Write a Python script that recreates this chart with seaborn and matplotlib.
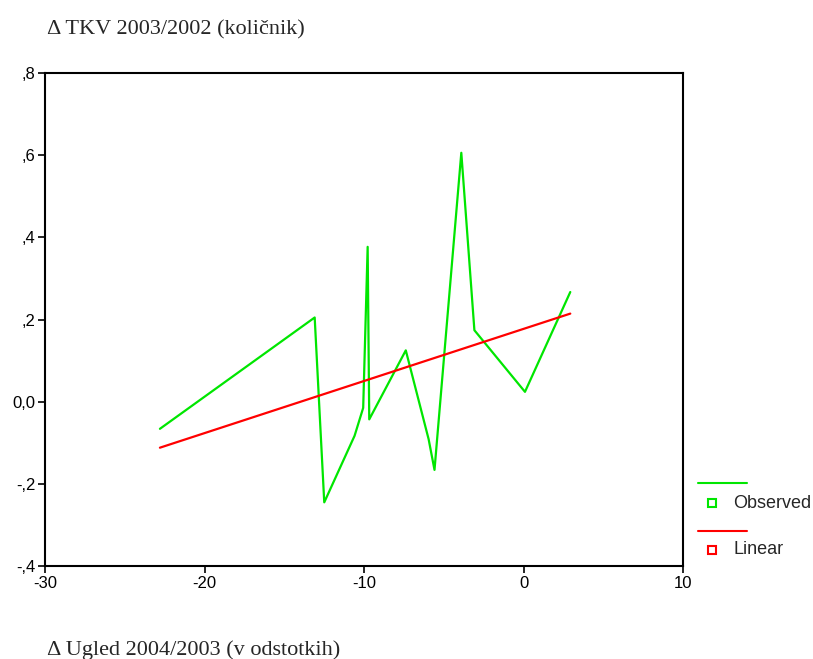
import numpy as np
import pandas as pd
import matplotlib
matplotlib.use("Agg")
import matplotlib.pyplot as plt
import seaborn as sns
from matplotlib.lines import Line2D

ugled = [-22.8, -13.1, -12.5, -10.6, -10.06, -9.78, -9.68, -7.39,
         -5.96, -5.59, -3.91, -3.09, 0.08, 2.92]
tkv = [-0.066, 0.205, -0.245, -0.083, -0.015, 0.377, -0.043, 0.125,
       -0.091, -0.166, 0.606, 0.174, 0.024, 0.267]

x_ticks = [-30, -20, -10, 0, 10]
y_ticks = [-0.4, -0.2, 0.0, 0.2, 0.4, 0.6, 0.8]
y_labels = ["-,4", "-,2", "0,0", ",2", ",4", ",6", ",8"]

df = pd.DataFrame({"ugled": ugled, "tkv": tkv})

green = "#00e600"
red = "#ff0000"

sns.set_style("white")
plt.rcParams["font.family"] = ["Liberation Sans", "DejaVu Sans"]

fig = plt.figure(figsize=(8.13, 6.59), dpi=100)
ax = fig.add_axes([0.0554, 0.1411, 0.785, 0.748])

# observed series, connected in x order
sns.lineplot(data=df, x="ugled", y="tkv", color=green, lw=1.6, sort=True, ax=ax)

# linear fit
sns.regplot(data=df, x="ugled", y="tkv", ci=None, scatter=False,
            line_kws={"color": red, "lw": 1.6}, ax=ax)

ax.set_xlim(-30, 10)
ax.set_ylim(-0.4, 0.8)
ax.set_xticks(x_ticks)
ax.set_xticklabels([str(t) for t in x_ticks])
ax.set_yticks(y_ticks)
ax.set_yticklabels(y_labels)
ax.set_xlabel("")
ax.set_ylabel("")
ax.tick_params(axis="both", direction="out", length=5, width=1.2,
               labelsize=12, colors="black", pad=2)
ax.tick_params(axis="y", left=True)
ax.tick_params(axis="x", bottom=True)
for s in ax.spines.values():
    s.set_visible(True)
    s.set_color("black")
    s.set_linewidth(1.5)

# titles in serif, as in the original output
fig.text(47 / 813, 1 - 30 / 659, "\u0394 TKV 2003/2002 (količnik)",
         family="Liberation Serif", fontsize=16, va="center", ha="left")
fig.text(47 / 813, 1 - 650 / 659, "\u0394 Ugled 2004/2003 (v odstotkih)",
         family="Liberation Serif", fontsize=16, va="center", ha="left")

# SPSS-style legend: line on one row, hollow square + label on the next
def legend_entry(y_line, y_lab, color, label):
    fig.add_artist(Line2D([698 / 813, 747 / 813], [1 - y_line / 659] * 2,
                          color=color, lw=1.5, transform=fig.transFigure))
    fig.add_artist(Line2D([712 / 813], [1 - y_lab / 659], marker="s", ms=6,
                          mfc="white", mec=color, mew=1.5, ls="none",
                          transform=fig.transFigure))
    fig.text(733 / 813, 1 - y_lab / 659, label, fontsize=13,
             va="center", ha="left")

legend_entry(483, 503, green, "Observed")
legend_entry(531, 550, red, "Linear")

fig.savefig("out.png", dpi=100)
